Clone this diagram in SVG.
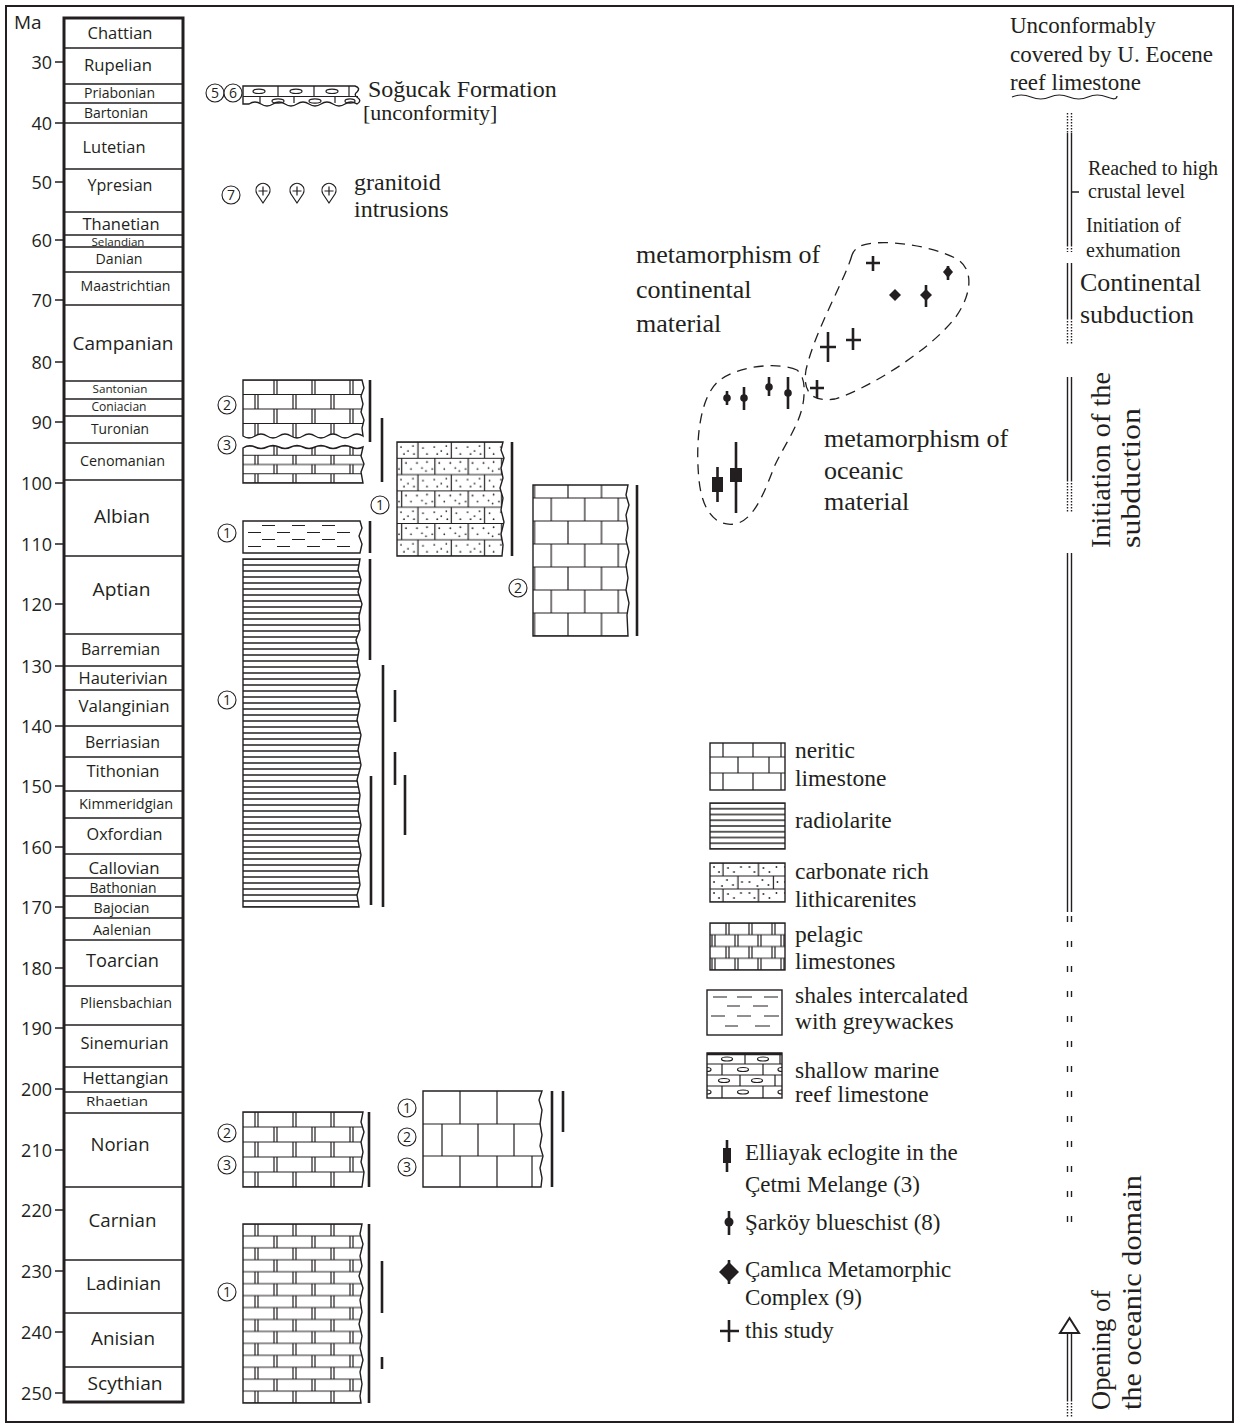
<svg xmlns="http://www.w3.org/2000/svg" width="1240" height="1425" viewBox="0 0 1240 1425">
<style>
.sans{font-family:"Open Sans","Liberation Sans",sans-serif;fill:#231f20}
.serif{font-family:"Liberation Serif","Times New Roman",serif;fill:#231f20}
.ln{fill:none;stroke:#231f20;stroke-width:1.2}
.bk{stroke:#231f20;stroke-width:1.4}
.bar{stroke:#231f20;stroke-width:2.6;fill:none}
.circ{fill:#fff;stroke:#231f20;stroke-width:1.1}
.num{font-family:"Open Sans","Liberation Sans",sans-serif;font-size:14px;text-anchor:middle;fill:#231f20}
.loop{fill:none;stroke:#231f20;stroke-width:1.3;stroke-dasharray:10 7}
.sym{stroke:#231f20;stroke-width:2.6;fill:none}
.dl{stroke:#231f20;stroke-width:1.4;fill:none}
.dt{stroke:#231f20;stroke-width:1.4;fill:none;stroke-dasharray:1.5 1.5}
.tk{font-size:18px;text-anchor:end}
</style>
<defs>
<pattern id="pelC" patternUnits="userSpaceOnUse" x="243" y="380" width="38" height="29">
<path class="ln" d="M0,0H38M0,14.5H38M0,29H38M31,0V14.5M34,0V14.5M12,14.5V29M15,14.5V29"/>
</pattern>
<pattern id="pelD" patternUnits="userSpaceOnUse" x="243" y="446" width="38" height="18.5">
<path class="ln" d="M0,0H38M0,9.25H38M0,18.5H38M31,0V9.25M34,0V9.25M12,9.25V18.5M15,9.25V18.5"/>
</pattern>
<pattern id="pelN" patternUnits="userSpaceOnUse" x="243" y="1112" width="38" height="30">
<path class="ln" d="M0,0H38M0,15H38M0,30H38M12,0V15M15,0V15M31,15V30M34,15V30"/>
</pattern>
<pattern id="pelT" patternUnits="userSpaceOnUse" x="243" y="1224" width="38" height="23.87">
<path class="ln" d="M0,0H38M0,11.93H38M0,23.87H38M12,0V11.93M15,0V11.93M31,11.93V23.87M34,11.93V23.87"/>
</pattern>
<pattern id="pelL" patternUnits="userSpaceOnUse" x="710" y="923" width="23" height="23.5">
<path class="ln" d="M0,0H23M0,11.75H23M0,23.5H23M16,0V11.75M19,0V11.75M2,11.75V23.5M5,11.75V23.5"/>
</pattern>
<pattern id="rad" patternUnits="userSpaceOnUse" x="0" y="559" width="20" height="6">
<path stroke="#231f20" stroke-width="1.5" d="M0,0H20M0,6H20"/>
</pattern>
<pattern id="radL" patternUnits="userSpaceOnUse" x="0" y="803" width="20" height="5.75">
<path stroke="#231f20" stroke-width="1.5" d="M0,0H20M0,5.75H20"/>
</pattern>
<pattern id="lith" patternUnits="userSpaceOnUse" x="397" y="442" width="33.3" height="32.6">
<path class="ln" d="M0,0H33.3M0,16.3H33.3M0,32.6H33.3M21,0V16.3M4.6,16.3V32.6"/>
<g fill="#231f20"><circle cx="4" cy="5" r="0.9"/><circle cx="11" cy="9" r="0.9"/><circle cx="16" cy="4" r="0.9"/><circle cx="26" cy="6" r="0.9"/><circle cx="30" cy="12" r="0.9"/><circle cx="7" cy="12" r="0.9"/><circle cx="17" cy="12" r="0.9"/><circle cx="9" cy="21" r="0.9"/><circle cx="14" cy="27" r="0.9"/><circle cx="20" cy="21" r="0.9"/><circle cx="25" cy="26" r="0.9"/><circle cx="30" cy="20" r="0.9"/><circle cx="2" cy="27" r="0.9"/><circle cx="29" cy="29" r="0.9"/></g>
</pattern>
<pattern id="lithL" patternUnits="userSpaceOnUse" x="710" y="863" width="35.5" height="26">
<path class="ln" d="M0,0H35.5M0,13H35.5M0,26H35.5M13,0V13M28,13V26"/>
<g fill="#231f20"><circle cx="4" cy="4" r="0.9"/><circle cx="9" cy="9" r="0.9"/><circle cx="18" cy="5" r="0.9"/><circle cx="24" cy="9" r="0.9"/><circle cx="31" cy="4" r="0.9"/><circle cx="4" cy="19" r="0.9"/><circle cx="12" cy="23" r="0.9"/><circle cx="17" cy="17" r="0.9"/><circle cx="23" cy="22" r="0.9"/><circle cx="32" cy="19" r="0.9"/></g>
</pattern>
<pattern id="ner" patternUnits="userSpaceOnUse" x="534.5" y="475" width="33.5" height="46">
<path class="ln" d="M0,0H33.5M0,23H33.5M0,46H33.5M0,0V23M33.5,0V23M16.75,23V46"/>
</pattern>
</defs>

<rect x="6" y="6" width="1227" height="1416" fill="#fff" stroke="#231f20" stroke-width="2"/>

<g id="timescale">
<rect x="64" y="18" width="119" height="1384" fill="#fff" stroke="#231f20" stroke-width="3"/>
<path class="bk" fill="none" d="M64,48H183M64,84H183M64,103H183M64,123H183M64,169H183M64,212H183M64,235H183M64,247H183M64,272H183M64,305H183M64,381H183M64,399H183M64,416H183M64,443H183M64,480H183M64,556H183M64,634H183M64,666H183M64,690H183M64,726H183M64,757H183M64,791H183M64,818H183M64,854H183M64,878H183M64,896H183M64,918H183M64,940H183M64,986H183M64,1025H183M64,1067H183M64,1092H183M64,1113H183M64,1187H183M64,1260H183M64,1313H183M64,1367H183"/>
<path class="bk" fill="none" d="M55,62H63M55,123H63M55,182H63M55,240H63M55,300H63M55,362H63M55,422H63M55,483H63M55,544H63M55,604H63M55,666H63M55,726H63M55,786H63M55,847H63M55,907H63M55,968H63M55,1028H63M55,1089H63M55,1150H63M55,1210H63M55,1271H63M55,1332H63M55,1393H63"/>
<g class="sans">
<text x="14" y="29" font-size="19">Ma</text>
<g class="tk">
<text x="52" y="68.5">30</text><text x="52" y="129.5">40</text><text x="52" y="188.5">50</text><text x="52" y="246.5">60</text><text x="52" y="306.5">70</text><text x="52" y="368.5">80</text><text x="52" y="428.5">90</text><text x="52" y="489.5">100</text><text x="52" y="550.5">110</text><text x="52" y="610.5">120</text><text x="52" y="672.5">130</text><text x="52" y="732.5">140</text><text x="52" y="792.5">150</text><text x="52" y="853.5">160</text><text x="52" y="913.5">170</text><text x="52" y="974.5">180</text><text x="52" y="1034.5">190</text><text x="52" y="1095.5">200</text><text x="52" y="1156.5">210</text><text x="52" y="1216.5">220</text><text x="52" y="1277.5">230</text><text x="52" y="1338.5">240</text><text x="52" y="1399.5">250</text>
</g>
<g style="text-anchor:middle">
<text x="120" y="39" font-size="16.5" textLength="65" lengthAdjust="spacingAndGlyphs">Chattian</text>
<text x="118" y="71" font-size="16.5" textLength="68" lengthAdjust="spacingAndGlyphs">Rupelian</text>
<text x="119.5" y="98" font-size="14" textLength="71" lengthAdjust="spacingAndGlyphs">Priabonian</text>
<text x="116" y="118" font-size="14" textLength="64" lengthAdjust="spacingAndGlyphs">Bartonian</text>
<text x="114" y="153" font-size="16.5" textLength="63" lengthAdjust="spacingAndGlyphs">Lutetian</text>
<text x="120" y="191" font-size="16.5" textLength="65" lengthAdjust="spacingAndGlyphs">Ypresian</text>
<text x="121" y="229.5" font-size="16.5" textLength="77" lengthAdjust="spacingAndGlyphs">Thanetian</text>
<text x="118" y="245.5" font-size="10" textLength="53" lengthAdjust="spacingAndGlyphs">Selandian</text>
<text x="119" y="264" font-size="14" textLength="47" lengthAdjust="spacingAndGlyphs">Danian</text>
<text x="125.5" y="291" font-size="14" textLength="90" lengthAdjust="spacingAndGlyphs">Maastrichtian</text>
<text x="123" y="350" font-size="19" textLength="101" lengthAdjust="spacingAndGlyphs">Campanian</text>
<text x="120" y="393" font-size="11.5" textLength="55" lengthAdjust="spacingAndGlyphs">Santonian</text>
<text x="119" y="411" font-size="12" textLength="55" lengthAdjust="spacingAndGlyphs">Coniacian</text>
<text x="120" y="434" font-size="14" textLength="58" lengthAdjust="spacingAndGlyphs">Turonian</text>
<text x="122.5" y="466" font-size="14" textLength="85" lengthAdjust="spacingAndGlyphs">Cenomanian</text>
<text x="122" y="523" font-size="19" textLength="56" lengthAdjust="spacingAndGlyphs">Albian</text>
<text x="121.5" y="596" font-size="19" textLength="58" lengthAdjust="spacingAndGlyphs">Aptian</text>
<text x="120.5" y="655" font-size="16" textLength="79" lengthAdjust="spacingAndGlyphs">Barremian</text>
<text x="123" y="684" font-size="16.5" textLength="89" lengthAdjust="spacingAndGlyphs">Hauterivian</text>
<text x="124" y="712" font-size="16.5" textLength="91" lengthAdjust="spacingAndGlyphs">Valanginian</text>
<text x="122.5" y="748" font-size="16" textLength="75" lengthAdjust="spacingAndGlyphs">Berriasian</text>
<text x="123" y="777" font-size="16.5" textLength="73" lengthAdjust="spacingAndGlyphs">Tithonian</text>
<text x="126" y="809" font-size="14" textLength="94" lengthAdjust="spacingAndGlyphs">Kimmeridgian</text>
<text x="124.5" y="840" font-size="16.5" textLength="76" lengthAdjust="spacingAndGlyphs">Oxfordian</text>
<text x="124" y="874" font-size="16.5" textLength="71" lengthAdjust="spacingAndGlyphs">Callovian</text>
<text x="123" y="893" font-size="14" textLength="67" lengthAdjust="spacingAndGlyphs">Bathonian</text>
<text x="121.5" y="913" font-size="14" textLength="56" lengthAdjust="spacingAndGlyphs">Bajocian</text>
<text x="122" y="935" font-size="14" textLength="58" lengthAdjust="spacingAndGlyphs">Aalenian</text>
<text x="122.5" y="967" font-size="18.5" textLength="73" lengthAdjust="spacingAndGlyphs">Toarcian</text>
<text x="126" y="1008" font-size="14" textLength="92" lengthAdjust="spacingAndGlyphs">Pliensbachian</text>
<text x="124.5" y="1049" font-size="16.5" textLength="88" lengthAdjust="spacingAndGlyphs">Sinemurian</text>
<text x="125.5" y="1084" font-size="16.5" textLength="86" lengthAdjust="spacingAndGlyphs">Hettangian</text>
<text x="117" y="1106" font-size="13" textLength="62" lengthAdjust="spacingAndGlyphs">Rhaetian</text>
<text x="120" y="1151" font-size="18.5" textLength="59" lengthAdjust="spacingAndGlyphs">Norian</text>
<text x="122.5" y="1227" font-size="18.5" textLength="68" lengthAdjust="spacingAndGlyphs">Carnian</text>
<text x="123.5" y="1290" font-size="18.5" textLength="75" lengthAdjust="spacingAndGlyphs">Ladinian</text>
<text x="123" y="1345" font-size="18.5" textLength="64" lengthAdjust="spacingAndGlyphs">Anisian</text>
<text x="125" y="1390" font-size="18.5" textLength="75" lengthAdjust="spacingAndGlyphs">Scythian</text>
</g>
</g>
</g>

<g id="sogucak">
<path d="M243,86H355Q361,88 357,92Q353,95 358,98Q362,101 357,104Q351,100 345,104T333,104T321,104T309,104T297,104T285,104T273,104T261,104T249,104L243,104Z" fill="#fff" class="bk"/>
<path class="ln" d="M243,96.5H358M278,86V96.5M314,86V96.5M349,86V96.5M260,96.5V103M294,96.5V103M335,96.5V103"/>
<g class="ln"><ellipse cx="259" cy="91.3" rx="6" ry="2.2"/><ellipse cx="296" cy="91.3" rx="6" ry="2.2"/><ellipse cx="332" cy="91.3" rx="6" ry="2.2"/><ellipse cx="278" cy="101" rx="6" ry="2.2"/><ellipse cx="315" cy="101" rx="6" ry="2.2"/><ellipse cx="350" cy="101" rx="5" ry="2.2"/></g>
<circle class="circ" cx="215" cy="93" r="9"/><text class="num" x="215" y="98">5</text>
<circle class="circ" cx="233" cy="93" r="9"/><text class="num" x="233" y="98">6</text>
<text class="serif" x="368" y="97" font-size="24">Soğucak Formation</text>
<text class="serif" x="363" y="120" font-size="22">[unconformity]</text>
</g>

<g id="granitoid">
<circle class="circ" cx="231" cy="195" r="9"/><text class="num" x="231" y="200">7</text>
<g class="ln">
<path d="M263,203L257,194A7,7 0 1 1 269,194Z"/><path d="M263,186.5V195.5M258.5,191H267.5"/>
<path d="M297,203L291,194A7,7 0 1 1 303,194Z"/><path d="M297,186.5V195.5M292.5,191H301.5"/>
<path d="M329,203L323,194A7,7 0 1 1 335,194Z"/><path d="M329,186.5V195.5M324.5,191H333.5"/>
</g>
<text class="serif" x="354" y="190" font-size="24">granitoid</text>
<text class="serif" x="354" y="217" font-size="24">intrusions</text>
</g>

<g id="cretaceous-pelagic">
<path d="M243,380H362L364,388L361,396L363,404L361,412L364,420L362,428L363,436Q357,432 351,436T339,436T327,436T315,436T303,436T291,436T279,436T267,436T255,436T243,436Z" style="fill:url(#pelC)" class="bk"/>
<path d="M243,448Q249,444 255,447T267,447T279,447T291,447T303,447T315,447T327,447T339,447T351,447T363,447L361,456L364,464L361,472L363,483H243Z" style="fill:url(#pelD)" class="bk"/>
<circle class="circ" cx="227" cy="405" r="9"/><text class="num" x="227" y="410">2</text>
<circle class="circ" cx="227" cy="445" r="9"/><text class="num" x="227" y="450">3</text>
<path class="bar" d="M370,380V442M382,418V482"/>
</g>

<g id="shale">
<path d="M243,521H360L362,528L359,536L362,544L360,553H243Z" fill="#fff" class="bk"/>
<path class="ln" d="M262,525.5H275M292,525.5H305M322,525.5H335M248,532.5H261M277,532.5H290M307,532.5H320M337,532.5H350M262,539.5H275M292,539.5H305M322,539.5H335M248,546.5H261M277,546.5H290M307,546.5H320M337,546.5H350"/>
<circle class="circ" cx="227" cy="533" r="9"/><text class="num" x="227" y="538">1</text>
<path class="bar" d="M370,521V553"/>
</g>

<g id="radiolarite">
<path d="M243,559H360L358,570L361,580L358,592L362,604L359,616L360,630L356,640L359,650L357,662L360,675L356,690L360,705L357,720L361,735L358,750L361,765L357,780L360,795L358,810L361,825L358,840L361,855L358,870L360,885L357,895L359,907H243Z" style="fill:url(#rad)" class="bk"/>
<circle class="circ" cx="227" cy="700" r="9"/><text class="num" x="227" y="705">1</text>
<path class="bar" d="M370,559V660M383,665V907M395,690V722M395,752V785M405,775V835M371,776V905"/>
</g>

<g id="lithicarenite">
<path d="M397,442H503L501,450L504,458L501,468L503,478L500,488L503,498L501,510L504,522L501,534L503,545L502,556H397Z" style="fill:url(#lith)" class="bk"/>
<circle class="circ" cx="380" cy="505" r="9"/><text class="num" x="380" y="510">1</text>
<path class="bar" d="M512,442V556"/>
</g>

<g id="neritic-upper">
<path d="M533,485H628L626,495L629,505L626,515L628,528L626,540L629,552L626,565L628,578L626,590L629,603L627,615L628,636H533Z" style="fill:url(#ner)" class="bk"/>
<circle class="circ" cx="518" cy="588" r="9"/><text class="num" x="518" y="593">2</text>
<path class="bar" d="M637,485V636"/>
</g>

<g id="norian-pelagic">
<path d="M243,1112H363L361,1122L364,1132L361,1142L363,1152L361,1162L364,1172L362,1187H243Z" style="fill:url(#pelN)" class="bk"/>
<circle class="circ" cx="227" cy="1133" r="9"/><text class="num" x="227" y="1138">2</text>
<circle class="circ" cx="227" cy="1165" r="9"/><text class="num" x="227" y="1170">3</text>
<path class="bar" d="M369,1112V1187"/>
</g>

<g id="norian-neritic">
<path d="M423,1091H542L539,1100L542,1110L540,1124L542,1135L540,1146L543,1156L540,1168L542,1178L541,1187H423Z" fill="#fff" class="bk"/>
<path class="ln" d="M423,1124H541M423,1156H542M460,1091V1124M497,1091V1124M442,1124V1156M478,1124V1156M514,1124V1156M460,1156V1187M497,1156V1187M532,1156V1187"/>
<circle class="circ" cx="407" cy="1108" r="9"/><text class="num" x="407" y="1113">1</text>
<circle class="circ" cx="407" cy="1137" r="9"/><text class="num" x="407" y="1142">2</text>
<circle class="circ" cx="407" cy="1167" r="9"/><text class="num" x="407" y="1172">3</text>
<path class="bar" d="M552,1091V1187M563,1091V1132"/>
</g>

<g id="triassic-pelagic">
<path d="M243,1224H362L360,1234L363,1244L360,1256L362,1266L359,1276L363,1288L360,1300L362,1312L359,1324L362,1336L360,1348L363,1360L360,1372L362,1384L360,1396L361,1403H243Z" style="fill:url(#pelT)" class="bk"/>
<circle class="circ" cx="227" cy="1292" r="9"/><text class="num" x="227" y="1297">1</text>
<path class="bar" d="M369,1224V1403M382,1261V1313M382,1357V1369"/>
</g>

<g id="metamorphism">
<path class="loop" d="M852,255C845,280 815,330 806,370C802,395 815,402 835,399C870,388 930,350 955,318C972,295 975,268 955,258C930,245 880,238 860,246C855,249 853,252 852,255Z"/>
<path class="loop" d="M797,370C780,362 740,365 720,380C700,395 695,440 699,480C702,510 715,527 735,524C755,520 765,490 775,465C787,440 803,420 804,395C805,382 802,374 797,370Z"/>
<g class="sym">
<path d="M873,256V271M866,263H880M828,332V362M820,347H836M853,328V350M846,340H861M817,380V398M810,388H824"/>
<path d="M948,266V280M926,285V307M727,391V405M744,387V410M769,377V396M788,377V409M717.5,467V502M736,442V513"/>
</g>
<g fill="#231f20">
<path d="M948,266L953,272L948,278L943,272Z"/><path d="M895,289L901,295L895,301L889,295Z"/><path d="M926,289L932,295L926,301L920,295Z"/>
<circle cx="727" cy="398" r="3.8"/><circle cx="744" cy="398" r="3.8"/><circle cx="769" cy="387" r="3.8"/><circle cx="788" cy="393" r="3.8"/>
<rect x="712" y="477" width="11" height="15"/><rect x="730" y="468" width="12" height="14"/>
</g>
<g class="serif" font-size="26">
<text x="636" y="263">metamorphism of</text><text x="636" y="298">continental</text><text x="636" y="332">material</text>
<text x="824" y="447">metamorphism of</text><text x="824" y="479">oceanic</text><text x="824" y="510">material</text>
</g>
</g>

<g id="legend">
<g id="leg-neritic">
<rect x="710" y="743" width="75" height="47" fill="#fff" class="bk"/>
<path class="ln" d="M710,757H785M710,773H785M723,743V757M753,743V757M781,743V757M738,757V773M769,757V773M723,773V790M753,773V790M781,773V790"/>
</g>
<rect x="710" y="803" width="75" height="46" style="fill:url(#radL)" class="bk"/>
<rect x="710" y="863" width="75" height="39" style="fill:url(#lithL)" class="bk"/>
<rect x="710" y="923" width="75" height="47" style="fill:url(#pelL)" class="bk"/>
<g id="leg-shale">
<rect x="707" y="990" width="75" height="45" fill="#fff" class="bk"/>
<path class="ln" d="M713,997H727M737,997H752M764,997H778M727,1006H740M753,1006H768M711,1016H725M737,1016H751M764,1016H779M725,1026H738M755,1026H770"/>
</g>
<g id="leg-reef">
<rect x="707" y="1053" width="75" height="45" fill="#fff" class="bk"/>
<path stroke="#231f20" stroke-width="2.4" d="M707,1054H782"/>
<path class="ln" d="M707,1064H782M707,1075H782M707,1086H782M745,1053V1064M780,1053V1064M722,1064V1075M763,1064V1075M740,1075V1086M775,1075V1086M722,1086V1098M763,1086V1098"/>
<g class="ln"><ellipse cx="727" cy="1059" rx="5.5" ry="2"/><ellipse cx="763" cy="1059" rx="5.5" ry="2"/><path d="M707,1067.5A4,2 0 0 1 707,1071.5"/><ellipse cx="743" cy="1069.5" rx="5.5" ry="2"/><path d="M782,1067.5A4,2 0 0 0 782,1071.5"/><ellipse cx="724" cy="1080.5" rx="5.5" ry="2"/><ellipse cx="757" cy="1080.5" rx="5.5" ry="2"/><path d="M707,1090A4,2 0 0 1 707,1094"/><ellipse cx="743" cy="1092" rx="5.5" ry="2"/><path d="M782,1090A4,2 0 0 0 782,1094"/></g>
</g>
<g class="serif" font-size="23.5">
<text x="795" y="758">neritic</text><text x="795" y="786">limestone</text>
<text x="795" y="828">radiolarite</text>
<text x="795" y="879">carbonate rich</text><text x="795" y="907">lithicarenites</text>
<text x="795" y="942">pelagic</text><text x="795" y="969">limestones</text>
<text x="795" y="1003">shales intercalated</text><text x="795" y="1029">with greywackes</text>
<text x="795" y="1078">shallow marine</text><text x="795" y="1102">reef limestone</text>
</g>
<g id="leg-symbols">
<path class="sym" d="M727,1140V1172M729,1211V1235M729,1260V1284M729,1320V1342M720,1331H739"/>
<rect x="723" y="1148" width="8" height="15" fill="#231f20"/>
<circle cx="729" cy="1222" r="4.5" fill="#231f20"/>
<path d="M729,1262L739,1272L729,1282L719,1272Z" fill="#231f20"/>
<g class="serif" font-size="23">
<text x="745" y="1160">Elliayak eclogite in the</text><text x="745" y="1192">Çetmi Melange (3)</text>
<text x="745" y="1230">Şarköy blueschist (8)</text>
<text x="745" y="1277">Çamlıca Metamorphic</text><text x="745" y="1305">Complex (9)</text>
<text x="745" y="1338">this study</text>
</g>
</g>
</g>

<g id="events">
<g class="serif" font-size="23">
<text x="1010" y="33">Unconformably</text><text x="1010" y="62">covered by U. Eocene</text><text x="1010" y="90">reef limestone</text>
</g>
<path class="ln" d="M1012,97Q1021,93 1031,97T1050,97T1069,97T1088,97T1107,97T1117,96"/>
<path class="dt" d="M1067.5,113V133M1071.5,113V133M1067.5,245V252M1071.5,245V252M1067.5,318V345M1071.5,318V345M1067.5,480V512M1071.5,480V512M1067.5,1400V1418M1071.5,1400V1418"/>
<path class="dl" d="M1067.5,133V245M1071.5,133V245M1072,192H1079M1067.5,263V318M1071.5,263V318M1067.5,377V480M1071.5,377V480M1067.5,553V912M1071.5,553V912M1067.5,1333V1400M1071.5,1333V1400"/>
<path class="dl" stroke-dasharray="6 19" d="M1067.5,916V1222M1071.5,916V1222"/>
<path d="M1069.5,1318L1079,1333H1060Z" fill="#fff" stroke="#231f20" stroke-width="2"/>
<g class="serif" font-size="20">
<text x="1088" y="175">Reached to high</text><text x="1088" y="198">crustal level</text>
<text x="1086" y="232">Initiation of</text><text x="1086" y="257">exhumation</text>
</g>
<g class="serif" font-size="26">
<text x="1080" y="291">Continental</text><text x="1080" y="323">subduction</text>
</g>
<g class="serif" font-size="27">
<text transform="translate(1110,548) rotate(-90)" textLength="176" lengthAdjust="spacingAndGlyphs">Initiation of the</text>
<text transform="translate(1140,548) rotate(-90)" textLength="140" lengthAdjust="spacingAndGlyphs">subduction</text>
<text transform="translate(1110,1410) rotate(-90)" textLength="120" lengthAdjust="spacingAndGlyphs">Opening of</text>
<text transform="translate(1141,1410) rotate(-90)" textLength="235" lengthAdjust="spacingAndGlyphs">the oceanic domain</text>
</g>
</g>
</svg>
